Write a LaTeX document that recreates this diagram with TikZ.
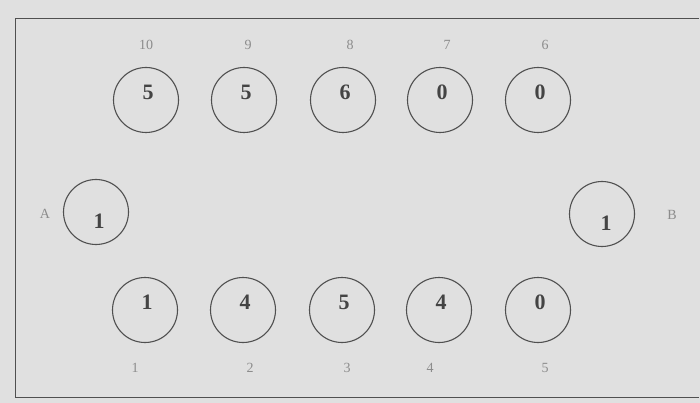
\documentclass[tikz,border=0pt]{standalone}
\usepackage{fontspec}
\setmainfont{Liberation Serif}
\definecolor{bg}{RGB}{224,224,224}
\definecolor{ink}{RGB}{80,80,80}
\definecolor{lbl}{RGB}{140,140,140}
\begin{document}
\begin{tikzpicture}[x=1pt,y=-1pt,
  pit/.style={circle,draw=ink,line width=1.1pt,minimum size=65pt,inner sep=0pt},
  val/.style={font=\fontsize{22}{24}\selectfont\bfseries,text=ink!85!black,inner sep=0pt},
  lab/.style={font=\fontsize{14}{15}\selectfont,text=lbl,inner sep=0pt}]
\fill[bg] (0,0) rectangle (700,403);
\useasboundingbox (0,0) rectangle (700,403);
\draw[ink,line width=1pt] (699,19) -- (15,19) -- (15,397) -- (699,397);
% top row
\foreach \n/\x/\v/\lx in {10/146/5/146, 9/244/5/248, 8/343/6/350, 7/440/0/447, 6/538/0/545}{
  \node[pit] (p\n) at (\x,100) {};
  \node[val] (v\n) at (\x+2,92) {\v};
  \node[lab] (l\n) at (\lx,45) {\n};
}
% bottom row
\foreach \n/\x/\v/\lx in {1/145/1/135, 2/243/4/250, 3/342/5/347, 4/439/4/430, 5/538/0/545}{
  \node[pit] (p\n) at (\x,310) {};
  \node[val] (v\n) at (\x+2,302) {\v};
  \node[lab] (l\n) at (\lx,368) {\n};
}
% stores
\node[pit] (pA) at (96,212) {};
\node[val] (vA) at (99,221) {1};
\node[lab] (lA) at (45,214) {A};
\node[pit] (pB) at (602,214) {};
\node[val] (vB) at (606,223) {1};
\node[lab] (lB) at (672,215) {B};
\end{tikzpicture}
\end{document}
